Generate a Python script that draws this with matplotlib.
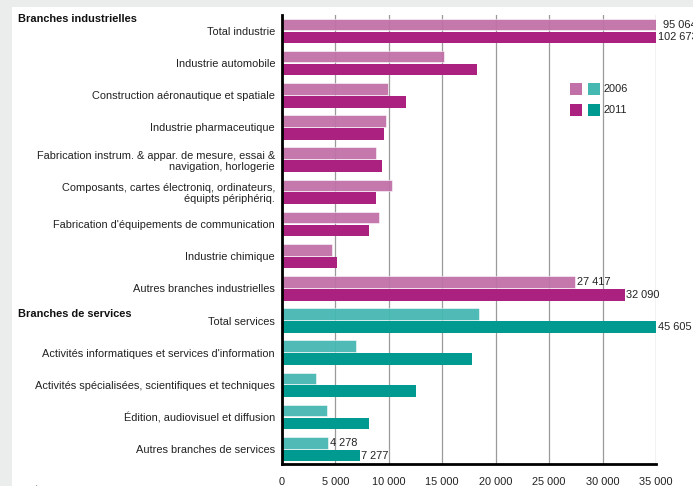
import matplotlib
matplotlib.use("Agg")
import matplotlib.pyplot as plt
from matplotlib.patches import Rectangle
import numpy as np

plt.rcParams['font.family'] = ['Liberation Sans', 'DejaVu Sans']

categories = [
    "Total industrie",
    "Industrie automobile",
    "Construction aéronautique et spatiale",
    "Industrie pharmaceutique",
    "Fabrication instrum. & appar. de mesure, essai &\nnavigation, horlogerie",
    "Composants, cartes électroniq, ordinateurs,\néquipts périphériq.",
    "Fabrication d'équipements de communication",
    "Industrie chimique",
    "Autres branches industrielles",
    "Total services",
    "Activités informatiques et services d'information",
    "Activités spécialisées, scientifiques et techniques",
    "Édition, audiovisuel et diffusion",
    "Autres branches de services",
]
groups = ["ind"] * 9 + ["serv"] * 5
values_2006 = [95064, 15150, 9940, 9690, 8810, 10280, 9120, 4660, 27417,
               18440, 6910, 3160, 4190, 4278]
values_2011 = [102673, 18250, 11590, 9530, 9340, 8780, 8120, 5120, 32090,
               45605, 17780, 12530, 8120, 7277]
labelled_2006 = [0, 8, 13]
labelled_2011 = [0, 8, 9, 13]
xticks = [0, 5000, 10000, 15000, 20000, 25000, 30000, 35000]
xticklabels = ["0", "5 000", "10 000", "15 000", "20 000", "25 000", "30 000", "35 000"]
group_titles = ["Branches industrielles", "Branches de services"]
legend_years = ["2006", "2011"]

colors = {
    ("ind", "2006"): "#c171a8",
    ("ind", "2011"): "#ab2180",
    ("serv", "2006"): "#46b8b2",
    ("serv", "2011"): "#009a91",
}

FS = 7.9
W, H = 693, 486
fig = plt.figure(figsize=(W / 100, H / 100), dpi=100)
fig.patch.set_facecolor("#ebecec")
fig.add_artist(Rectangle((12 / W, 0), 1, 1 - 7 / H, transform=fig.transFigure,
                         facecolor="white", edgecolor="none", zorder=0))

ax = fig.add_axes([282 / W, 1 - 464 / H, (656 - 282) / W, (464 - 15.5) / H])
ax.set_facecolor("none")

y = np.arange(len(categories))
h = 0.36
off = 0.2
c06 = [colors[(g, "2006")] for g in groups]
c11 = [colors[(g, "2011")] for g in groups]
ax.barh(y - off, values_2006, height=h, color=c06, edgecolor="white",
        linewidth=0.4, alpha=0.95, zorder=2)
ax.barh(y + off, values_2011, height=h, color=c11, edgecolor="none", zorder=2)

xmax = 35000
ax.set_xlim(0, xmax)
ax.set_ylim(len(categories) - 0.54, -0.48)

def fmt(v):
    return f"{v:,}".replace(",", " ")

for i in labelled_2006:
    v = values_2006[i]
    dx = 7 if v > xmax else 2
    ax.annotate(fmt(v), (min(v, xmax), i - off), xytext=(dx, 0),
                textcoords="offset pixels", va="center", ha="left",
                fontsize=FS, color="#222222", annotation_clip=False, zorder=5)
for i in labelled_2011:
    v = values_2011[i]
    ax.annotate(fmt(v), (min(v, xmax), i + off), xytext=(1.5, 0),
                textcoords="offset pixels", va="center", ha="left",
                fontsize=FS, color="#222222", annotation_clip=False, zorder=5)

ax.set_yticks(y)
ax.set_yticklabels(categories, fontsize=FS, color="#222222")
for lab in ax.get_yticklabels():
    lab.set_linespacing(1.15)
ax.set_xticks(xticks)
ax.set_xticklabels(xticklabels, fontsize=FS, color="#222222")
ax.tick_params(axis="y", length=0, pad=5)
ax.tick_params(axis="x", length=0, pad=9.5)

ax.grid(axis="x", color="#9a9a9a", linewidth=0.9, zorder=1)
ax.set_axisbelow(True)
for s in ["top", "right"]:
    ax.spines[s].set_visible(False)
ax.spines["left"].set_linewidth(2.0)
ax.spines["bottom"].set_linewidth(2.0)
ax.spines["left"].set_color("black")
ax.spines["bottom"].set_color("black")
ax.spines["left"].set_zorder(4)
ax.spines["bottom"].set_zorder(4)

# group titles
fig.text(18 / W, 1 - 19.5 / H, group_titles[0], fontsize=FS, fontweight="bold",
         va="center", ha="left", color="#111111")
fig.text(18 / W, 1 - 314 / H, group_titles[1], fontsize=FS, fontweight="bold",
         va="center", ha="left", color="#111111")

# legend (manual)
leg_rows = [(legend_years[0], 89, [colors[("ind", "2006")], colors[("serv", "2006")]]),
            (legend_years[1], 110, [colors[("ind", "2011")], colors[("serv", "2011")]])]
for txt, yc, cols in leg_rows:
    for k, col in enumerate(cols):
        x0 = 570 + k * 18
        fig.add_artist(Rectangle((x0 / W, 1 - (yc + 6) / H), 12 / W, 12 / H,
                                 transform=fig.transFigure, facecolor=col,
                                 edgecolor="none", zorder=5))
    fig.text(604 / W, 1 - yc / H, txt, fontsize=FS, va="center", ha="left",
             color="#222222")

# cut-off footnote
fig.text(18 / W, 1 - 485 / H, "(1) Échantillon constant d'entreprises", fontsize=7,
         va="top", ha="left", color="#333333")

fig.savefig("out.png", dpi=100, facecolor=fig.get_facecolor())
